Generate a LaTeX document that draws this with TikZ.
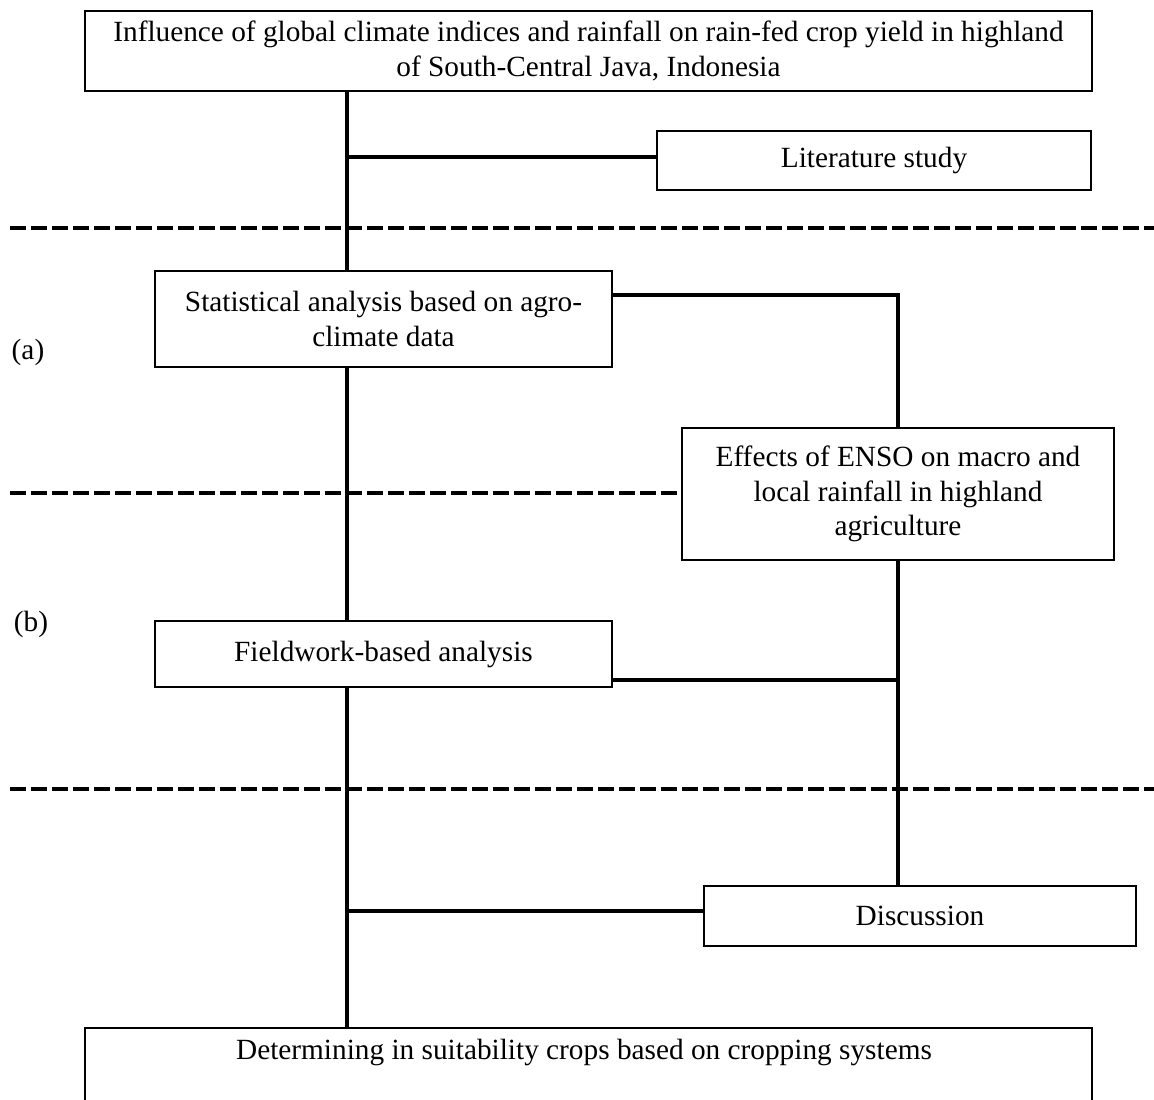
\documentclass[tikz,border=0pt]{standalone}
\usepackage{fontspec}
\setmainfont{Liberation Serif}
\usetikzlibrary{backgrounds}
\begin{document}
\begin{tikzpicture}[x=1pt,y=-1pt,
  box/.style={draw=black,line width=1.8pt,fill=white,inner sep=0pt,align=center,
    font=\fontsize{29.3}{34.5}\selectfont},
  mainline/.style={line width=4.5pt},
  dashline/.style={line width=4pt,dash pattern=on 16pt off 5pt},
  lbl/.style={font=\fontsize{29.3}{34.5}\selectfont,inner sep=0pt}]
\useasboundingbox (0,0) rectangle (1154,1100);
\clip (0,0) rectangle (1154,1100);
% named helper coordinates
\coordinate (mx) at (347,0);
\coordinate (cyL) at (0,157);
\coordinate (cyS) at (0,295);
\coordinate (cyF) at (0,680);
\coordinate (cyD) at (0,911);
\coordinate (d1a) at (10,228);
\coordinate (d1b) at (1154,228);
\coordinate (d2a) at (10,493);
\coordinate (d3a) at (10,789);
\coordinate (d3b) at (1154,789);
% boxes
\path (588.5,51) node[box,minimum width=1007pt,minimum height=80pt] (top)
  {Influence of global climate indices and rainfall on rain-fed crop yield in highland\\of South-Central Java, Indonesia};
\path (874,160.5) node[box,minimum width=434pt,minimum height=59pt] (lit) {Literature study};
\path (383.5,319) node[box,minimum width=457pt,minimum height=96pt] (stat)
  {Statistical analysis based on agro-\\climate data};
\path (898,494) node[box,minimum width=432pt,minimum height=132pt] (enso)
  {Effects of ENSO on macro and\\local rainfall in highland\\agriculture};
\path (383.5,654) node[box,minimum width=457pt,minimum height=66pt] (field) {Fieldwork-based analysis};
\path (920,916) node[box,minimum width=432pt,minimum height=60pt] (disc) {Discussion};
\path (588.5,1078) node[box,minimum width=1007pt,minimum height=100pt] (bot) {};
\node[lbl] (bottxt) at (584,1052) {Determining in suitability crops based on cropping systems};
\node[lbl] (la) at (28,352) {(a)};
\node[lbl] (lb) at (31,624) {(b)};
% connectors behind the boxes
\begin{scope}[on background layer]
\draw[mainline] (top.south -| mx) -- (bot.north -| mx);
\draw[mainline] (mx |- cyL) -- (lit.west |- cyL);
\draw[mainline] (stat.east |- cyS) -| (enso.north);
\draw[mainline] (enso.south) -- (disc.north -| enso.south);
\draw[mainline] (field.east |- cyF) -- (enso.south |- cyF);
\draw[mainline] (mx |- cyD) -- (disc.west |- cyD);
\draw[dashline] (d1a) -- (d1b);
\draw[dashline] (d2a) -- (enso.west |- d2a);
\draw[dashline] (d3a) -- (d3b);
\end{scope}
\end{tikzpicture}
\end{document}
